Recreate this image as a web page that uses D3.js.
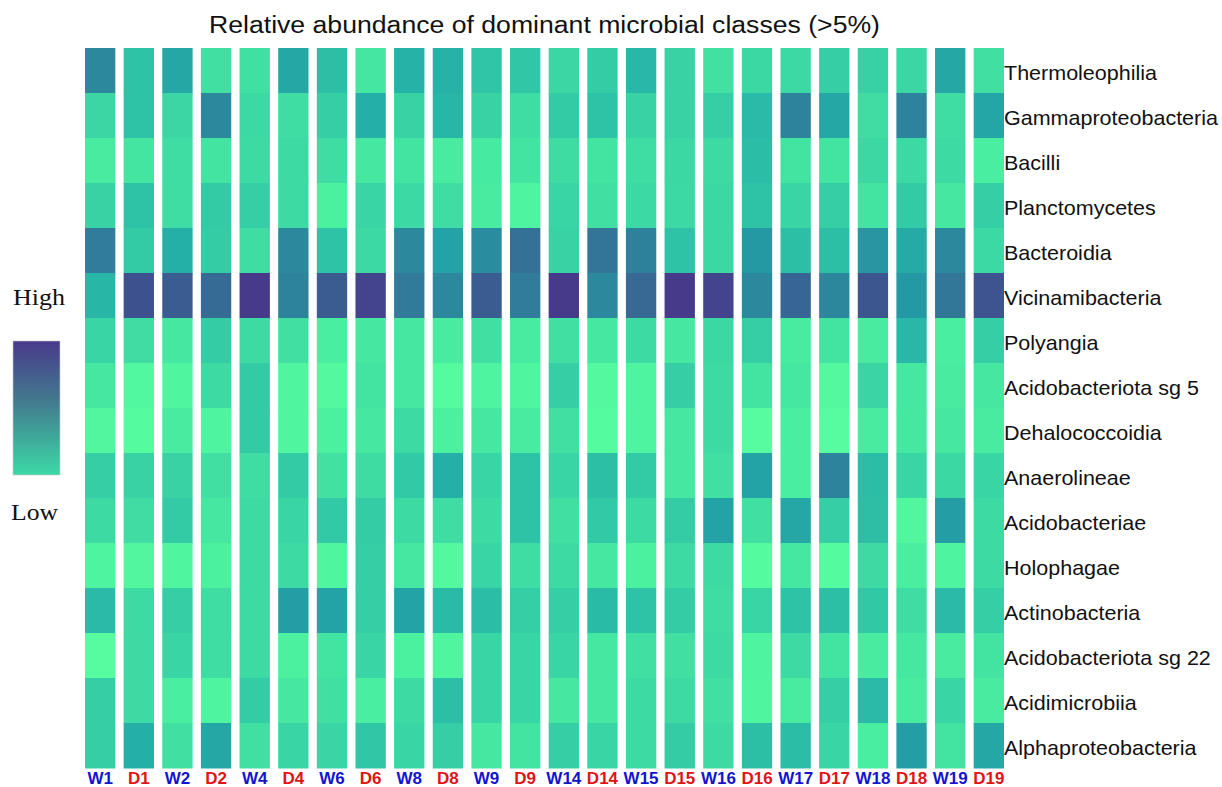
<!DOCTYPE html>
<html>
<head>
<meta charset="utf-8">
<script src="https://cdn.jsdelivr.net/npm/d3@7"></script>
<style>
  html, body { margin: 0; padding: 0; background: #fff; }
  svg { display: block; }
</style>
</head>
<body>
<svg id="chart" width="1222" height="787"></svg>
<script>
// Sample columns (W = wet, D = dry), left to right
const samples = ["W1","D1","W2","D2","W4","D4","W6","D6","W8","D8","W9","D9",
                 "W14","D14","W15","D15","W16","D16","W17","D17","W18","D18","W19","D19"];

// Dominant classes, top to bottom
const classes = ["Thermoleophilia","Gammaproteobacteria","Bacilli","Planctomycetes",
  "Bacteroidia","Vicinamibacteria","Polyangia","Acidobacteriota sg 5","Dehalococcoidia",
  "Anaerolineae","Acidobacteriae","Holophagae","Actinobacteria","Acidobacteriota sg 22",
  "Acidimicrobiia","Alphaproteobacteria"];

// Scaled relative abundance (0 = low, 1 = high), one array per class, in sample order
const thermoleophilia     = [0.70,0.40,0.55,0.20,0.21,0.55,0.42,0.16,0.49,0.49,0.39,0.38,0.27,0.34,0.46,0.30,0.19,0.26,0.25,0.32,0.31,0.27,0.55,0.20];
const gammaproteobacteria = [0.27,0.40,0.27,0.70,0.25,0.22,0.33,0.50,0.30,0.47,0.30,0.22,0.35,0.40,0.30,0.30,0.32,0.45,0.72,0.55,0.22,0.72,0.22,0.56];
const bacilli             = [0.12,0.17,0.22,0.18,0.24,0.24,0.22,0.14,0.18,0.12,0.13,0.18,0.23,0.18,0.22,0.26,0.24,0.43,0.18,0.18,0.26,0.25,0.24,0.10];
const planctomycetes      = [0.30,0.40,0.22,0.35,0.32,0.24,0.08,0.28,0.25,0.22,0.12,0.06,0.28,0.20,0.25,0.25,0.26,0.40,0.28,0.32,0.18,0.35,0.14,0.32];
const bacteroidia         = [0.75,0.35,0.50,0.34,0.22,0.70,0.40,0.25,0.70,0.57,0.68,0.80,0.30,0.78,0.73,0.40,0.26,0.62,0.42,0.42,0.64,0.53,0.70,0.25];
const vicinamibacteria    = [0.47,0.92,0.88,0.82,1.00,0.72,0.88,0.97,0.76,0.70,0.88,0.75,1.00,0.70,0.83,1.00,0.97,0.70,0.84,0.71,0.90,0.62,0.77,0.91];
const polyangia           = [0.28,0.22,0.14,0.34,0.24,0.20,0.10,0.14,0.15,0.12,0.20,0.12,0.20,0.15,0.24,0.14,0.26,0.32,0.12,0.18,0.12,0.46,0.10,0.32];
const acidoSg5            = [0.14,0.03,0.05,0.24,0.35,0.05,0.02,0.18,0.14,0.01,0.06,0.05,0.32,0.02,0.06,0.32,0.24,0.18,0.15,0.02,0.28,0.14,0.12,0.15];
const dehalococcoidia     = [0.04,0.01,0.12,0.06,0.35,0.05,0.08,0.14,0.24,0.08,0.14,0.12,0.20,0.01,0.06,0.14,0.24,0.00,0.10,0.00,0.12,0.15,0.14,0.12];
const anaerolineae        = [0.33,0.30,0.30,0.20,0.22,0.35,0.19,0.23,0.36,0.50,0.28,0.40,0.28,0.42,0.35,0.15,0.20,0.57,0.10,0.72,0.43,0.28,0.26,0.28];
const acidobacteriae      = [0.24,0.22,0.35,0.14,0.24,0.28,0.36,0.34,0.24,0.22,0.24,0.40,0.20,0.36,0.24,0.34,0.57,0.20,0.55,0.32,0.42,0.04,0.60,0.24];
const holophagae          = [0.06,0.04,0.05,0.08,0.24,0.24,0.05,0.32,0.15,0.02,0.28,0.22,0.24,0.14,0.08,0.24,0.24,0.01,0.14,0.01,0.24,0.10,0.06,0.24];
const actinobacteria      = [0.45,0.24,0.32,0.22,0.24,0.60,0.57,0.32,0.57,0.44,0.43,0.33,0.32,0.44,0.40,0.34,0.22,0.28,0.40,0.42,0.37,0.22,0.45,0.32];
const acidoSg22           = [0.00,0.24,0.28,0.22,0.24,0.08,0.18,0.28,0.08,0.05,0.28,0.28,0.28,0.15,0.20,0.20,0.24,0.06,0.24,0.18,0.12,0.15,0.12,0.18];
const acidimicrobiia      = [0.32,0.24,0.10,0.06,0.34,0.15,0.20,0.10,0.24,0.42,0.28,0.28,0.15,0.14,0.24,0.24,0.20,0.05,0.12,0.32,0.45,0.12,0.28,0.12];
const alphaproteobacteria = [0.32,0.50,0.20,0.55,0.20,0.28,0.28,0.38,0.28,0.32,0.14,0.18,0.32,0.28,0.24,0.34,0.24,0.42,0.43,0.28,0.10,0.60,0.18,0.55];

const rows = [thermoleophilia, gammaproteobacteria, bacilli, planctomycetes, bacteroidia,
  vicinamibacteria, polyangia, acidoSg5, dehalococcoidia, anaerolineae, acidobacteriae,
  holophagae, actinobacteria, acidoSg22, acidimicrobiia, alphaproteobacteria];

// Long table for the cells
const cells = [];
classes.forEach((c, i) => {
  samples.forEach((s, j) => cells.push({ cls: c, sample: s, value: rows[i][j] }));
});

const svg = d3.select("#chart");

const x = d3.scaleBand().domain(samples).range([85, 1004]).paddingInner(0.215).paddingOuter(0);
const y = d3.scaleBand().domain(classes).range([48, 768]).padding(0);

// Low → high colour ramp
const color = d3.scaleLinear()
  .domain([0, 0.1, 0.2, 0.3, 0.4, 0.5, 0.6, 0.7, 0.8, 0.9, 1])
  .range(["#56fc9f","#4aeea0","#41e0a2","#38d2a5","#2ec3a6","#25b0a7","#249da5","#2b889d","#357096","#3c5790","#483a8b"])
  .interpolate(d3.interpolateRgb);

// Title (slightly wide lettering)
svg.append("text")
  .attr("x", 209).attr("y", 33)
  .attr("textLength", 671)
  .attr("lengthAdjust", "spacingAndGlyphs")
  .style("font-family", "Arial, 'Liberation Sans', sans-serif")
  .style("font-size", "23.5px")
  .attr("fill", "#111")
  .text("Relative abundance of dominant microbial classes (>5%)");

// Heatmap cells
svg.append("g").selectAll("rect")
  .data(cells)
  .join("rect")
  .attr("x", d => x(d.sample))
  .attr("y", d => y(d.cls))
  .attr("width", x.bandwidth())
  .attr("height", y.bandwidth() + 0.5)
  .attr("fill", d => color(d.value));

// Class labels on the right
const yAxis = svg.append("g")
  .attr("transform", "translate(1004,0)")
  .call(d3.axisRight(y).tickSize(0).tickPadding(0));
yAxis.select(".domain").remove();
yAxis.selectAll("text")
  .style("font-family", "Arial, 'Liberation Sans', sans-serif")
  .style("font-size", "20.5px")
  .attr("fill", "#111")
  .attr("dy", "0.45em")
  .attr("transform", "scale(1.05,1)");

// Sample labels at the bottom, coloured by treatment
const xAxis = svg.append("g")
  .attr("transform", "translate(0,770)")
  .call(d3.axisBottom(x).tickSize(0).tickPadding(0));
xAxis.select(".domain").remove();
xAxis.selectAll("text")
  .style("font-family", "Arial, 'Liberation Sans', sans-serif")
  .style("font-size", "17px")
  .style("font-weight", "bold")
  .attr("y", 0)
  .attr("dy", "14px")
  .attr("fill", d => d.startsWith("W") ? "#1414d0" : "#e01414");

// Legend
const defs = svg.append("defs");
const grad = defs.append("linearGradient")
  .attr("id", "legendGrad")
  .attr("x1", 0).attr("y1", 0).attr("x2", 0).attr("y2", 1);
grad.append("stop").attr("offset", "0%").attr("stop-color", "#483a8b");
grad.append("stop").attr("offset", "45%").attr("stop-color", "#427a8e");
grad.append("stop").attr("offset", "100%").attr("stop-color", "#3dd9a6");

svg.append("rect")
  .attr("x", 13).attr("y", 341)
  .attr("width", 47).attr("height", 134)
  .attr("fill", "url(#legendGrad)")
  .attr("stroke", "#c8c8c8").attr("stroke-width", 0.6);

svg.append("text")
  .attr("x", 13).attr("y", 305)
  .attr("textLength", 52)
  .attr("lengthAdjust", "spacingAndGlyphs")
  .style("font-family", "'Liberation Serif', 'Times New Roman', serif")
  .style("font-size", "24px")
  .attr("fill", "#111")
  .text("High");

svg.append("text")
  .attr("x", 11).attr("y", 520)
  .attr("textLength", 47)
  .attr("lengthAdjust", "spacingAndGlyphs")
  .style("font-family", "'Liberation Serif', 'Times New Roman', serif")
  .style("font-size", "24px")
  .attr("fill", "#111")
  .text("Low");
</script>
</body>
</html>
